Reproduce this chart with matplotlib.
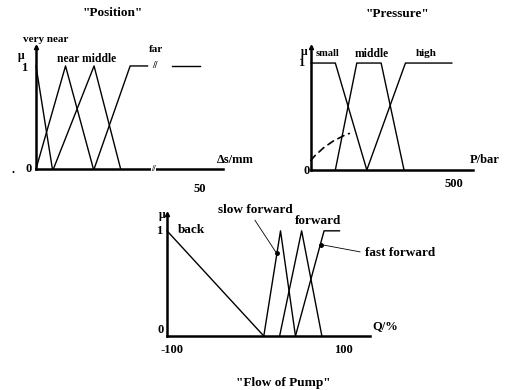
import matplotlib
matplotlib.use("Agg")
from matplotlib import pyplot as plt

# membership functions
# "Position" (delta s in mm)
very_near_x = [0, 5]
very_near_y = [1, 0]
near_x = [0, 9, 17.5]
near_y = [0, 1, 0]
middle_x = [5.3, 17.7, 25.8]
middle_y = [0, 1, 0]
far_x = [17.7, 28.7, 34]
far_y = [0, 1, 1]
far_tail_x = [41.4, 50]
far_tail_y = [1, 1]

# "Pressure" (bar)
small_x = [0, 85, 195]
small_y = [1, 1, 0]
p_middle_x = [85, 160, 245, 325]
p_middle_y = [0, 1, 1, 0]
high_x = [195, 330, 492]
high_y = [0, 1, 1]

# "Flow of Pump" (%)
back_x = [-100, 10]
back_y = [1, 0]
slow_x = [10, 29, 46]
slow_y = [0, 1, 0]
fwd_x = [28, 53, 76]
fwd_y = [0, 1, 0]
fast_x = [46, 78.5, 96]
fast_y = [0, 1, 1]

W, H = 510, 390
plt.rcParams['font.family'] = ['Liberation Serif', 'DejaVu Serif']
plt.rcParams['font.weight'] = 'bold'
fig = plt.figure(figsize=(W / 100, H / 100), dpi=100)


def px_axes(left, top, right, bottom):
    # axes placed by pixel box of the scan
    ax = fig.add_axes([left / W, 1 - bottom / H, (right - left) / W, (bottom - top) / H])
    ax.set_facecolor('none')
    for s in ['top', 'right']:
        ax.spines[s].set_visible(False)
    for s in ['left', 'bottom']:
        ax.spines[s].set_linewidth(1.8)
    ax.set_xticks([])
    ax.set_yticks([])
    # small arrow tip on the mu axis
    ax.plot([0], [1], transform=ax.transAxes, marker='^', ms=3, color='black', clip_on=False)
    return ax


def t(x, y, s, size=8.5, ha='left', va='center'):
    fig.text(x / W, 1 - y / H, s, fontsize=size, ha=ha, va=va, fontweight='bold')


lw = 1.0

# ---- Position
ax1 = px_axes(36, 47, 223, 169)
ax1.set_xlim(0, 57)
ax1.set_ylim(0, 1.184)
for xs, ys in [(very_near_x, very_near_y), (near_x, near_y), (middle_x, middle_y),
               (far_x, far_y), (far_tail_x, far_tail_y)]:
    ax1.plot(xs, ys, color='black', lw=lw, clip_on=False)
ax1.text(36.3, 1.0, '//', fontsize=7, ha='center', va='center')
ax1.text(35.8, 0.0, '//', fontsize=6, ha='center', va='center',
         bbox=dict(fc='white', ec='none', pad=0))

t(113, 13, '"Position"', 9.5, ha='center')
t(23, 39, 'very near', 8)
t(57, 59, 'near middle', 8.3)
t(149, 50, 'far', 8)
t(18, 56, 'μ', 8.5)
t(24.5, 68, '1', 9, ha='center')
t(29, 169, '0', 9, ha='center')
t(13, 170, '.', 9, ha='center')
t(217, 160, 'Δs/mm', 9)
t(200, 189, '50', 9, ha='center')

# ---- Pressure
ax2 = px_axes(311, 47, 473, 170)
ax2.set_xlim(0, 566)
ax2.set_ylim(0, 1.15)
for xs, ys in [(small_x, small_y), (p_middle_x, p_middle_y), (high_x, high_y)]:
    ax2.plot(xs, ys, color='black', lw=lw, clip_on=False)
ax2.annotate('', xy=(143, 0.35), xytext=(-7, 0.07),
             arrowprops=dict(arrowstyle='-', linestyle=(0, (4, 3)), lw=1.2,
                             connectionstyle='arc3,rad=-0.15'),
             annotation_clip=False)

t(397, 14, '"Pressure"', 9.5, ha='center')
t(316, 53, 'small', 7.5)
t(355, 54, 'middle', 8.3)
t(416, 53, 'high', 8)
t(301, 52, 'μ', 8.5)
t(298, 63, '1', 9)
t(307, 171, '0', 9, ha='center')
t(470, 160, 'P/bar', 9)
t(454, 184, '500', 9, ha='center')

# ---- Flow of Pump
ax3 = px_axes(167, 214, 370, 336)
ax3.set_xlim(-100, 130.7)
ax3.set_ylim(0, 1.16)
for xs, ys in [(back_x, back_y), (slow_x, slow_y), (fwd_x, fwd_y), (fast_x, fast_y)]:
    ax3.plot(xs, ys, color='black', lw=lw, clip_on=False)
ax3.plot([0, 24.7], [1.10, 0.785], color='black', lw=0.6, clip_on=False)
ax3.plot([24.7], [0.785], 'o', color='black', ms=2.5, clip_on=False)
ax3.plot([119.3, 74.5], [0.80, 0.87], color='black', lw=0.6, clip_on=False)
ax3.plot([74.5], [0.87], 'o', color='black', ms=2.5, clip_on=False)

t(178, 230, 'back', 9.5)
t(218, 210, 'slow forward', 9.5)
t(295, 221, 'forward', 9.5)
t(365, 253, 'fast forward', 9.5)
t(159, 215, 'μ', 8.5)
t(156, 231, '1', 9)
t(158, 330, '0', 9)
t(372, 326, 'Q/%', 9)
t(172, 350, '-100', 9, ha='center')
t(343, 350, '100', 9, ha='center')
t(283, 383, '"Flow of Pump"', 9.5, ha='center')

fig.savefig('out.png', dpi=100, facecolor='white')
